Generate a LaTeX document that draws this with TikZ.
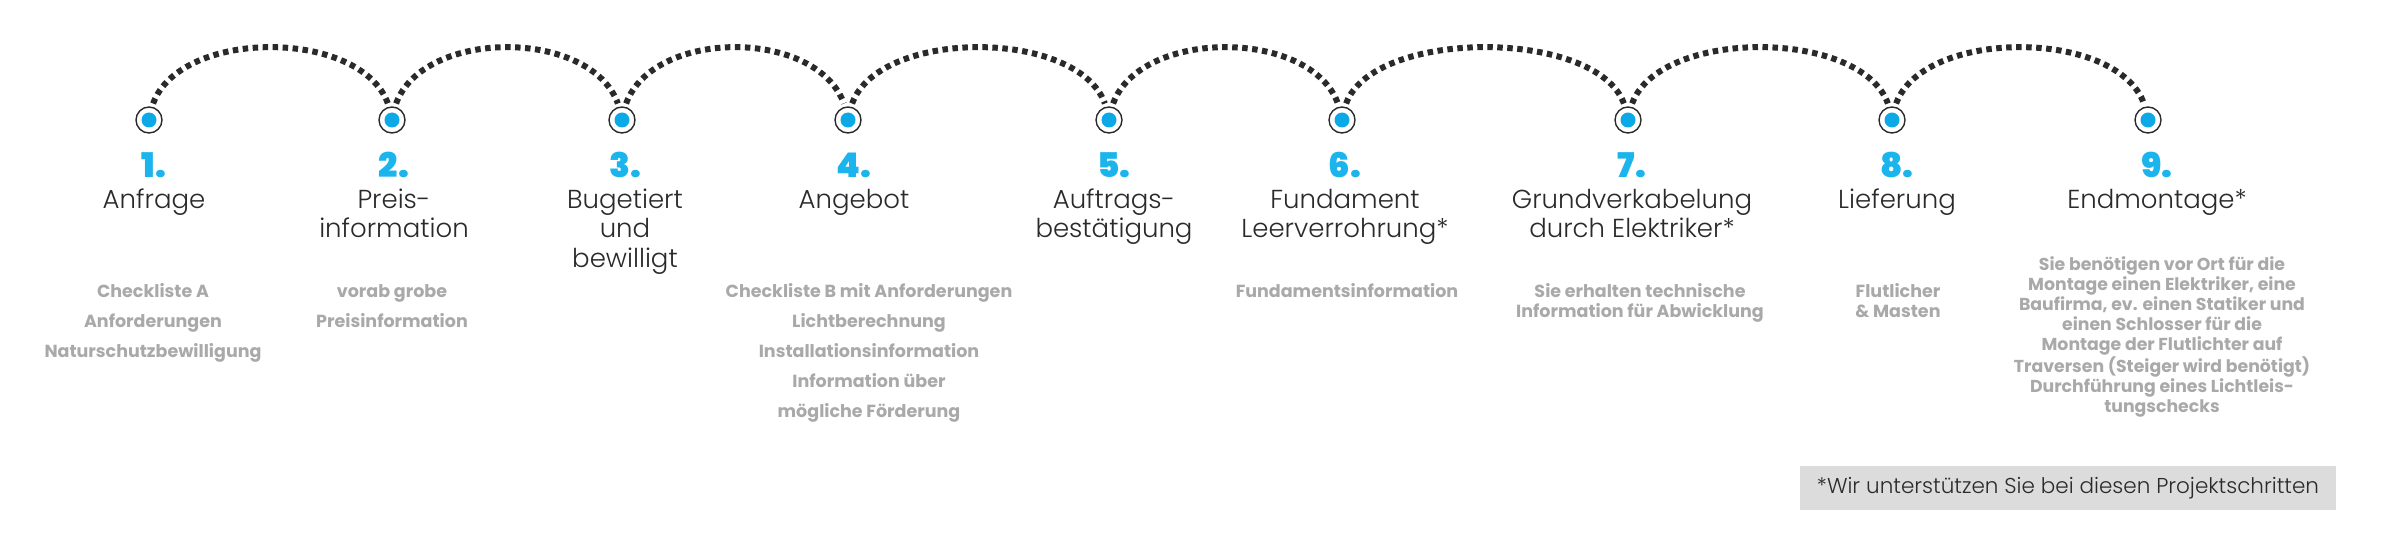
\documentclass[tikz,border=0pt]{standalone}
\usepackage{fontspec}
\setmainfont{Poppins}
\newfontfamily\lightf{Poppins Light}
\newfontfamily\blackf{Poppins Black}
\definecolor{dotblue}{HTML}{0CA9E6}
\definecolor{numblue}{HTML}{1BB4EC}
\definecolor{desc}{HTML}{A9A9A9}
\definecolor{ink}{HTML}{2A2A2A}
\definecolor{boxgray}{HTML}{DCDCDC}
\tikzset{
 stepdot/.style={circle, draw=ink, line width=1.4pt, fill=white, minimum size=26pt, inner sep=0pt, outer sep=4pt,
   path picture={\fill[dotblue] (path picture bounding box.center) circle (7.5pt);}},
 dotline/.style={draw=ink, line width=6pt, dash pattern=on 5.5pt off 4.5pt},
 num/.style={anchor=base, inner sep=0pt, text=numblue, font=\blackf\fontsize{34}{34}\selectfont},
 ttl/.style={anchor=base, inner sep=0pt, align=center, text=ink, font=\lightf\fontsize{26}{29.5}\selectfont},
 dsc/.style={anchor=base, inner sep=0pt, align=center, text=desc, font=\bfseries\fontsize{17.5}{30}\selectfont},
 dscs/.style={dsc, font=\bfseries\fontsize{17.5}{20.5}\selectfont},
 dsct/.style={dsc, font=\bfseries\fontsize{17.3}{20}\selectfont},
}
\begin{document}
\begin{tikzpicture}[x=1pt,y=1pt]
\useasboundingbox[fill=white] (0,0) rectangle (2400,-540);
% circles
\foreach \i/\x in {1/149,2/392,3/622,4/848,5/1109,6/1342,7/1628,8/1892,9/2148}
  \node[stepdot] (c\i) at (\x,-120) {};
% dotted arcs
\foreach \a/\b in {1/2,2/3,3/4,4/5,5/6,6/7,7/8,8/9}
  \draw[dotline] (c\a.76) .. controls +(70:80) and +(110:80) .. (c\b.104);
% numbers and titles (base anchor = baseline of the last line)
\node[num] (n1) at (154,-178) {1.};
\node[num] (n2) at (394,-178) {2.};
\node[num] (n3) at (625,-178) {3.};
\node[num] (n4) at (854,-178) {4.};
\node[num] (n5) at (1114,-178) {5.};
\node[num] (n6) at (1345,-178) {6.};
\node[num] (n7) at (1632,-178) {7.};
\node[num] (n8) at (1897,-178) {8.};
\node[num] (n9) at (2157,-178) {9.};
\node[ttl] (t1) at (154,-208) {Anfrage};
\node[ttl] (t2) at (394,-237.5) {Preis-\\information};
\node[ttl] (t3) at (625,-267) {Bugetiert\\und\\bewilligt};
\node[ttl] (t4) at (854,-208) {Angebot};
\node[ttl] (t5) at (1114,-237.5) {Auftrags-\\bestätigung};
\node[ttl] (t6) at (1345,-237.5) {Fundament\\Leerverrohrung*};
\node[ttl] (t7) at (1632,-237.5) {Grundverkabelung\\durch Elektriker*};
\node[ttl] (t8) at (1897,-208) {Lieferung};
\node[ttl] (t9) at (2157,-208) {Endmontage*};
% descriptions
\node[dsc] (d1) at (153,-357) {Checkliste A\\Anforderungen\\Naturschutzbewilligung};
\node[dsc] (d2) at (392,-327) {vorab grobe\\Preisinformation};
\node[dsc] (d4) at (869,-417) {Checkliste B mit Anforderungen\\Lichtberechnung\\Installationsinformation\\Information über\\mögliche Förderung};
\node[dsc] (d6) at (1347,-297) {Fundamentsinformation};
\node[dscs] (d7) at (1640,-317.5) {Sie erhalten technische\\Information für Abwicklung};
\node[dscs] (d8) at (1898,-317.5) {Flutlicher\\\& Masten};
\node[dsct] (d9) at (2162,-412) {Sie benötigen vor Ort für die\\Montage einen Elektriker, eine\\Baufirma, ev. einen Statiker und\\einen Schlosser für die\\Montage der Flutlichter auf\\Traversen (Steiger wird benötigt)\\Durchführung eines Lichtleis-\\tungschecks};
% footer
\node[fill=boxgray, minimum width=536pt, minimum height=44pt, inner sep=0pt, text=ink,
  font=\lightf\fontsize{21.5}{24}\selectfont] (foot) at (2068,-488) {*Wir unterstützen Sie bei diesen Projektschritten};
\end{tikzpicture}
\end{document}
